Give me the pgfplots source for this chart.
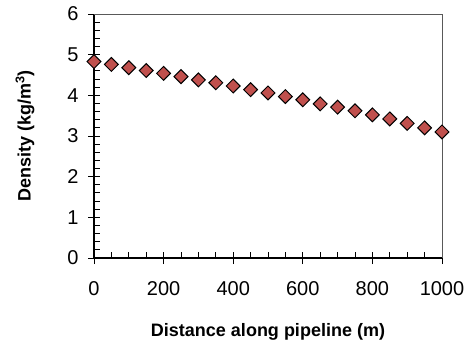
\documentclass[border=0pt]{standalone}
\usepackage{fontspec}
\setmainfont{Liberation Sans}
\usepackage{pgfplots}
\pgfplotsset{compat=1.18}
\definecolor{mk}{RGB}{192,80,77}
\begin{document}
\begin{tikzpicture}
\begin{axis}[
  at={(0,0)}, anchor=origin,
  scale only axis, width=348bp, height=244bp,
  xmin=0, xmax=1000, ymin=0, ymax=6,
  axis x line*=bottom, axis y line*=left,
  axis line style={black, line width=1.4pt, -},
  xtick={0,200,...,1000}, ytick={0,1,...,6},
  minor x tick num=3, minor y tick num=4,
  tick align=inside,
  major tick length=6bp, minor tick length=6bp,
  every tick/.style={black, line width=1pt},
  /pgf/number format/assume math mode=true,
  /pgf/number format/1000 sep={},
  ticklabel style={font=\fontsize{20bp}{22bp}\selectfont},
  xticklabel style={yshift=-20bp},
  yticklabel style={xshift=-12bp},
  xlabel={\textbf{Distance along pipeline (m)}},
  ylabel={\textbf{Density (kg/m\textsuperscript{3})}},
  label style={font=\fontsize{18bp}{20bp}\selectfont},
  xlabel style={at={(axis description cs:0.5,-0.303)}, anchor=center},
  ylabel style={at={(axis description cs:-0.198,0.5)}, anchor=center},
  clip=false,
]
\draw[gray!70!black, line width=0.8pt] (rel axis cs:0,1) -- (rel axis cs:1,1) -- (rel axis cs:1,0);
\addplot[only marks, mark=square*, mark size=4.9bp,
  mark options={rotate=45, fill=mk, draw=black, line width=1pt}]
coordinates {
(0,4.83) (50,4.76) (100,4.68) (150,4.61) (200,4.54) (250,4.46) (300,4.38)
(350,4.31) (400,4.23) (450,4.14) (500,4.06) (550,3.97) (600,3.89) (650,3.79)
(700,3.71) (750,3.62) (800,3.52) (850,3.42) (900,3.31) (950,3.20) (1000,3.10)
};
\end{axis}
\begin{axis}[
  at={(0,0)}, anchor=origin,
  scale only axis, width=348bp, height=244bp,
  xmin=0, xmax=1000, ymin=0, ymax=6,
  axis x line*=bottom, axis y line*=left,
  axis line style={draw=none, -},
  xtick={0,200,...,1000}, ytick={0,1,...,6},
  xticklabels={}, yticklabels={},
  tick align=outside, major tick length=6bp,
  every tick/.style={black, line width=1pt},
]
\end{axis}
\pgfresetboundingbox
\path (-94bp,-89bp) rectangle (375bp,258bp);
\end{tikzpicture}
\end{document}
